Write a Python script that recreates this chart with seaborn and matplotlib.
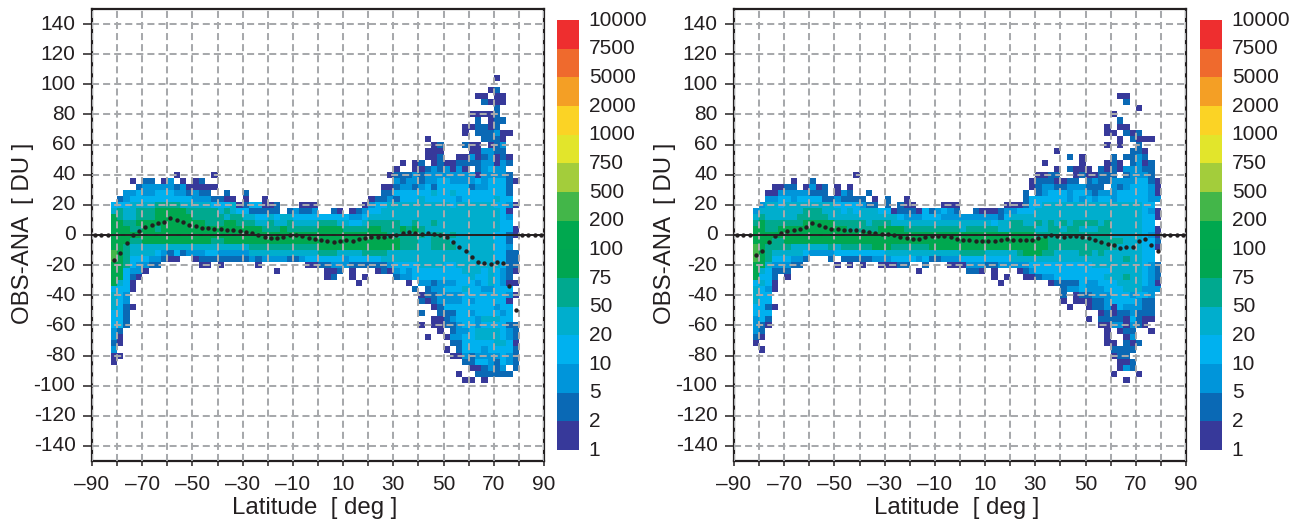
import numpy as np
import pandas as pd
import matplotlib
matplotlib.use('Agg')
import matplotlib.pyplot as plt
from matplotlib.colors import BoundaryNorm, ListedColormap
from matplotlib.transforms import ScaledTranslation
import seaborn as sns

sns.set_theme(style='white')
plt.rcParams['font.family'] = ['Liberation Sans', 'DejaVu Sans']

levels = [1, 2, 5, 10, 20, 50, 75, 100, 200, 500, 750, 1000, 2000, 5000, 7500, 10000]
level_labels = ['1', '2', '5', '10', '20', '50', '75', '100', '200', '500', '750',
                '1000', '2000', '5000', '7500', '10000']
colors = ['#37399a', '#0a69b5', '#0095da', '#00b1ef', '#00aecd', '#00a98f', '#00a651', '#00a84f',
          '#43b649', '#a3cd3b', '#e2e52b', '#fbd325', '#f49f25', '#ef6a2d', '#ee2e2f']

# count class of each cell, one string per OBS-ANA bin from +104 to -96 DU (4 DU steps)
# columns run from -82.5 to 80 deg (2.5 deg steps), blanks only group every ten columns
# . = no obs, 1 = 1-2, 2 = 2-5, 3 = 5-10, 4 = 10-20, 5 = 20-50, 6 = 50-75, 8 = 100-200, 9 = 200-500
rows_left = [
    ".......... .......... .......... .......... .......... .......... .1...",
    ".......... .......... .......... .......... .......... .......... .....",
    ".......... .......... .......... .......... .......... .......... 12...",
    ".......... .......... .......... .......... .......... ........11 .11..",
    ".......... .......... .......... .......... .......... .........2 111..",
    ".......... .......... .......... .......... .......... .......... .2...",
    ".......... .......... .......... .......... .......... .......111 12...",
    ".......... .......... .......... .......... .......... ........2. 122..",
    ".......... .......... .......... .......... .......... ......1122 12...",
    ".......... .......... .......... .......... .......... ......1.22 2311.",
    ".......... .......... .......... .......... .......... 1........2 221..",
    ".......... .......... .......... .......... .......... .12...211. 123..",
    ".......... .......... .......... .......... .......... 111....113 322..",
    ".......... .......... .......... .......... .......... 112..11312 3121.",
    ".......... .......... .......... .......... ......1.12 .121122223 3132.",
    ".......... .......... .......... .......... .....1..11 2323131.23 433..",
    ".......... 1.....1... .......... .......... ....122232 3333333313 3332.",
    "...1.22.13 .1.12..... .......... .......... .....32332 3344333343 44421",
    "....233333 2311111... .......... .......... ...1123323 4244444233 4442.",
    "..33433444 332322..2. .2........ .......... ...2244444 4544544444 4442.",
    ".234444444 4443332211 .1..1..... .......... .122324445 4444434444 4544.",
    "4445555666 6555554445 1244112... 111....... 1344555555 5555455555 54431",
    "5655666888 8866666565 4422222.23 223..21.12 3445555555 5555555555 5541.",
    "7655666888 8886666656 6554454554 4444444433 4555555555 5555555555 5543.",
    "8866888888 8888866688 6665565565 5556665544 5666665565 5655555555 5544.",
    "8886688688 8888888888 8888666866 6668888666 6886668686 5555555555 55441",
    "8888888888 8888888888 8888888888 8888888888 8888666666 5665655555 54421",
    "8886688888 8888886688 8888888888 8888888888 8888886665 5666555555 5442.",
    "8865555555 5555555555 5566666666 6668888888 8888886665 5666655555 5443.",
    "9865555432 4233344333 3355555555 5556665555 6666555555 5555555555 54422",
    "9864443321 1..1222222 2232333322 3444444344 4445555555 5555555555 54422",
    "88643322.. ....11.1.. ...1...... .112233322 2222344445 5554455555 55422",
    "884331.... .......... ......1... ....112.1. ..12134344 4444445554 54321",
    "88421..... .......... .......... ....12..1. 1....23344 4444444544 5432.",
    "8541...... .......... .......... .........1 .......1.3 3233344434 54311",
    "4441...... .......... .......... .......... ........2. 2334445443 3444.",
    "543....... .......... .......... .......... .........1 2233334444 44431",
    "543....... .......... .......... .......... .........2 1233334344 4441.",
    "5421...... .......... .......... .......... .......... .124444444 4344.",
    "442....... .......... .......... .......... .........2 ..22244344 4434.",
    "442....... .......... .......... .......... .......... .112344435 5544.",
    "442....... .......... .......... .......... .........1 .112234434 44422",
    "32........ .......... .......... .......... .......... ..1.233455 55432",
    "31........ .......... .......... .......... .......... 1..1334455 55432",
    "21........ .......... .......... .......... .......... ....224444 45541",
    "3......... .......... .......... .......... .......... ...1.24443 44442",
    "11........ .......... .......... .......... .......... ....113233 33432",
    "1......... .......... .......... .......... .......... ......2244 32432",
    ".......... .......... .......... .......... .......... .......112 323.2",
    ".......... .......... .......... .......... .......... .....1..22 2222.",
    ".......... .......... .......... .......... .......... ......11.1 .....",
]

rows_right = [
    ".......... .......... .......... .......... .......... .......... .....",
    ".......... .......... .......... .......... .......... .......... .....",
    ".......... .......... .......... .......... .......... .......... .....",
    ".......... .......... .......... .......... .......... ........11 .....",
    ".......... .......... .......... .......... .......... .........2 .....",
    ".......... .......... .......... .......... .......... .......... .1...",
    ".......... .......... .......... .......... .......... .......1.. .....",
    ".......... .......... .......... .......... .......... ........2. .....",
    ".......... .......... .......... .......... .......... ......1.11 .....",
    ".......... .......... .......... .......... .......... ......11.2 12...",
    ".......... .......... .......... .......... .......... ........1. 2111.",
    ".......... .......... .......... .......... .......... ......1.1. .2...",
    ".......... .......... .......... .......... ........1. .......... 221..",
    ".......... .......... .......... .......... .......... 2.1....2.2 232..",
    ".......... .......... .......... .......... ......1... ..1...121. 2312.",
    ".......... .......... .......... .......... ........1. 2111.21213 3322.",
    ".......... ......1... .......... .......... .....1122. .1211222.2 3332.",
    "......1..2 .......... .......... .......... ....122211 22.2322333 34421",
    "...1122.13 12.1.1.... .......... .......... ....123322 333222.323 44431",
    "..11333332 22.132..2. .......... .......... ...2.23444 3443233344 44431",
    "..33443444 42232222.1 .2..1..... .......... ...2444444 3434344344 44433",
    ".355455555 5554444322 .2.211.... 111....... 1112445555 5555555555 5544.",
    "3555555566 6555454555 4412221423 432..21112 3344455555 5555555555 55431",
    "5655555666 6655555555 5554333444 3333333332 4555555555 5555555555 55441",
    "6866666688 8886666656 6655555555 5555555545 5665565656 5666656555 5544.",
    "8866888888 8888866666 8888666666 6665666665 5666655665 6655566555 55441",
    "8888888888 8888888888 8888888888 8888888888 8888866666 6666666555 55431",
    "8886688888 8888888888 8888888888 8888888888 8888888666 6666666665 55442",
    "9866665555 5565666668 8866666688 8888888888 8888888666 6666666655 55441",
    "9865555543 3334444444 4555555555 5556666555 5568886655 5566565555 5544.",
    "986444332. ..2.222223 3344443422 3334444444 4555555555 5555555556 5544.",
    "88533322.. ...1.1.1.. 11122..2.. .111333223 3333444444 4444555555 55432",
    "854222.... .......... ......1... ....221.1. ..12344444 4444444555 55432",
    "8442.1.... .......... .......... ........1. 1..1123344 4444445556 55432",
    "4541...... .......... .......... .........1 .......122 2243344455 55431",
    "5431...... .......... .......... .......... .........2 3343334445 55333",
    "544....... .......... .......... .......... .........2 .122333444 3443.",
    "544....... .......... .......... .......... .........1 .111223444 4322.",
    "4421...... .......... .......... .......... .......... 1..1223143 3322.",
    "444....... .......... .......... .......... .......... .....12122 3222.",
    "342....... .......... .......... .......... .......... ...1.22221 4211.",
    "321....... .......... .......... .......... .......... .....11331 321..",
    "32........ .......... .......... .......... .......... ......1.12 2..1.",
    "21........ .......... .......... .......... .......... ......1..1 3....",
    "1......... .......... .......... .......... .......... ......11.2 12...",
    ".1........ .......... .......... .......... .......... .......222 2....",
    ".......... .......... .......... .......... .......... .......122 .....",
    ".......... .......... .......... .......... .......... ........11 2....",
    ".......... .......... .......... .......... .......... ........13 2....",
    ".......... .......... .......... .......... .......... .......1.. .1...",
    ".......... .......... .......... .......... .......... .........1 .....",
]

# zonal mean OBS-ANA per 2.5 deg column, -90 to 90 deg
mean_left = [0, 0, 0, -16.6, -12.2, -5.5, 0, 2.4, 5, 6.4, 7.7, 8.8, 11.5, 10, 8.4, 6.6, 6, 4.9,
             4.9, 4.2, 3.8, 3.5, 3.3, 2.7, 2.2, 1.3, 0, -1, -1.8, -2.2, -1.3, -0.2, -0.2, -0.7, -1.8, -2.7,
             -3.5, -3.8, -4.4, -4, -3.5, -4, -2.9, -2.2, -1.5, -1.5, -1, -0.4, 0.2, 1.3, 2, 1.3, 0.9, 1.1,
             0.9, 0.2, -1.5, -4.4, -7.7, -10.6, -14.4, -17.9, -18.6, -19.2, -17.7, -18.8, -33.8, -50, 0, 0, 0, 0]
mean_right = [0, 0, 0, -13.3, -10.4, -4.4, -0.4, 1.1, 2.7, 3.1, 4.2, 5.3, 7.7, 6.6, 5.3, 4.2, 3.8, 3.3,
              3.3, 3.1, 2.4, 2, 1.3, 0.9, 0.4, -0.2, -1.3, -2.2, -2.9, -2.9, -1.5, -0.4, -0.4, -0.7, -1.5, -2.7,
              -3.3, -3.3, -3.8, -3.8, -3.8, -3.8, -3.5, -2.9, -3.3, -3.3, -3.3, -3.1, -2.2, -0.7, 0, -0.4, -1.1, -0.7,
              -0.9, -1.1, -2, -3.3, -4.6, -6, -6.9, -8.8, -8.2, -8.2, -4.2, -2.7, -6.9, -10.4, 0, 0, 0, 0]

class_counts = {'1': 1.5, '2': 3, '3': 7, '4': 15, '5': 30, '6': 60, '7': 85, '8': 150, '9': 300}

lat_centers = np.arange(-88.75, 90, 2.5)
obs_centers = np.arange(148, -149, -4)
lat_ticks = np.arange(-90, 91, 10)
lat_labels = ['\u201390', '', '\u201370', '', '\u201350', '', '\u201330', '', '\u201310', '',
              '10', '', '30', '', '50', '', '70', '', '90']
obs_ticks = np.arange(-140, 141, 20)

W, H = 1300, 521
dark = '#231f20'


def to_frame(rows):
    df = pd.DataFrame(np.nan, index=obs_centers, columns=lat_centers)
    for n, row in enumerate(rows):
        cells = row.replace(' ', '')
        for c, code in enumerate(cells):
            if code != '.':
                df.iloc[(148 - 104) // 4 + n, 3 + c] = class_counts[code]
    return df


def panel(rows, means, x0, cbar_x0):
    ax = fig.add_axes([x0 / W, 1 - 461 / H, 452 / W, 452 / H])
    cax = fig.add_axes([cbar_x0 / W, 1 - 450 / H, 22 / W, 430 / H])
    sns.heatmap(to_frame(rows), ax=ax, cbar_ax=cax,
                cmap=ListedColormap(colors), norm=BoundaryNorm(levels, len(colors)),
                cbar_kws={'spacing': 'uniform', 'ticks': levels},
                linewidths=0, rasterized=True)

    # heatmap cells are numbered from the corner, so ticks go through the cell index
    ax.set_xticks((lat_ticks + 90) / 2.5)
    ax.set_xticklabels(lat_labels, rotation=0, fontsize=15, color=dark)
    ax.set_yticks((150 - obs_ticks) / 4)
    ax.set_yticklabels([str(v) for v in obs_ticks], rotation=0, fontsize=15, color=dark)
    ax.tick_params(axis='x', length=3.6, width=1.1, color=dark, bottom=True, pad=6.5)
    ax.tick_params(axis='y', length=6.3, width=1.1, color=dark, left=True, pad=5.5)
    ax.grid(True, color='#a7a9ac', linewidth=1.45, linestyle=(0, (3.5, 2)))
    ax.set_axisbelow(False)

    ax.axhline(75 / 2, color=dark, linewidth=1.4, zorder=4)
    sns.scatterplot(x=(lat_centers + 90) / 2.5, y=(150 - np.array(means)) / 4, ax=ax,
                    color=dark, s=10, linewidth=0, zorder=5)
    ax.set_xlim(0, 72)
    ax.set_ylim(75, 0)

    for spine in ax.spines.values():
        spine.set_visible(True)
        spine.set_color(dark)
        spine.set_linewidth(1.6)

    ax.set_xlabel('Latitude  [ deg ]', fontsize=17.3, color=dark)
    ax.set_ylabel('OBS-ANA  [ DU ]', fontsize=17.3, color=dark)
    ax.xaxis.set_label_coords(0.493, -0.08)
    ax.yaxis.set_label_coords(-0.128, 0.504)

    cax.set_yticklabels(level_labels, fontsize=15, color=dark)
    cax.tick_params(length=0, pad=7)
    cax.collections[0].set_edgecolor('face')
    for spine in cax.spines.values():
        spine.set_visible(False)
    # colorbar labels sit a little above the band edges
    shift = ScaledTranslation(0, 2 / 100, fig.dpi_scale_trans)
    for label in cax.get_yticklabels():
        label.set_transform(label.get_transform() + shift)


fig = plt.figure(figsize=(W / 100, H / 100), dpi=100)
panel(rows_left, mean_left, 92, 557)
panel(rows_right, mean_right, 734, 1200)

fig.savefig('out.png', dpi=100)
